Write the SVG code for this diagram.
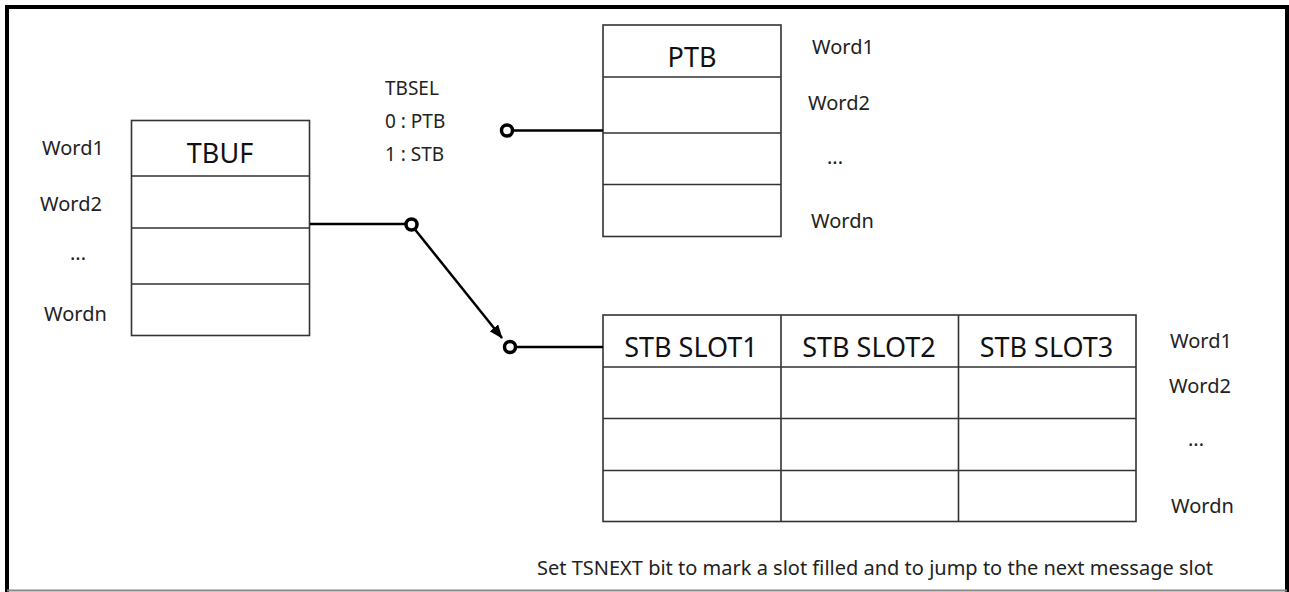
<svg xmlns="http://www.w3.org/2000/svg" width="1289" height="592" viewBox="0 0 1289 592">
<style>
.frame{fill:none;stroke:#000;stroke-width:4}
.cell{fill:#fff;stroke:#333;stroke-width:1.6}
.grid{stroke:#333;stroke-width:1.6;fill:none}
.hdr{font-family:"Noto Sans","Open Sans",sans-serif;font-size:27px;fill:#111;text-anchor:middle}
.lbl{font-family:"Noto Sans","Open Sans",sans-serif;font-size:20px;fill:#222}
.sel{font-family:"Noto Sans","Open Sans",sans-serif;font-size:19px;fill:#222}
.wire{stroke:#000;stroke-width:2.5;fill:none}
.term{fill:#fff;stroke:#000;stroke-width:3.5}
</style>
<defs>
<marker id="arrow" viewBox="0 0 14 11" refX="13" refY="5.5" markerWidth="14" markerHeight="11" markerUnits="userSpaceOnUse" orient="auto">
<path d="M0,0 L14,5.5 L0,11 z" fill="#000"/>
</marker>
</defs>
<rect width="1289" height="592" fill="#fff"/>
<path class="frame" d="M7 592V7H1287V592"/>
<line x1="7" y1="590.5" x2="1287" y2="590.5" stroke="#888" stroke-width="2"/>

<g id="tbuf">
<rect class="cell" x="131.5" y="120.5" width="178" height="215"/>
<path class="grid" d="M131.5 176H309.5M131.5 228H309.5M131.5 284H309.5"/>
<text class="hdr" x="220" y="163">TBUF</text>
<text class="lbl" x="42" y="155">Word1</text>
<text class="lbl" x="40" y="211">Word2</text>
<text class="lbl" x="70" y="260">...</text>
<text class="lbl" x="44" y="321">Wordn</text>
</g>

<g id="ptb">
<rect class="cell" x="603" y="25" width="178" height="211.5"/>
<path class="grid" d="M603 77H781M603 133H781M603 184.5H781"/>
<text class="hdr" x="692" y="67">PTB</text>
<text class="lbl" x="812" y="54">Word1</text>
<text class="lbl" x="808" y="110">Word2</text>
<text class="lbl" x="827" y="164">...</text>
<text class="lbl" x="811" y="228">Wordn</text>
</g>

<g id="stb">
<rect class="cell" x="603" y="315" width="533" height="206.5"/>
<path class="grid" d="M603 367H1136M603 418.5H1136M603 470.5H1136M781 315V521.5M958.5 315V521.5"/>
<text class="hdr" x="691" y="357">STB SLOT1</text>
<text class="hdr" x="869" y="357">STB SLOT2</text>
<text class="hdr" x="1046.5" y="357">STB SLOT3</text>
<text class="lbl" x="1170" y="348">Word1</text>
<text class="lbl" x="1169" y="393">Word2</text>
<text class="lbl" x="1188" y="446">...</text>
<text class="lbl" x="1171" y="513">Wordn</text>
</g>

<g id="tbsel">
<text class="sel" x="385" y="95">TBSEL</text>
<text class="sel" x="385" y="128">0 : PTB</text>
<text class="sel" x="385" y="161">1 : STB</text>
</g>

<g id="connectors">
<line class="wire" x1="310" y1="224" x2="406" y2="224"/>
<line class="wire" x1="512" y1="130.5" x2="603" y2="130.5"/>
<line class="wire" x1="515" y1="347" x2="603" y2="347"/>
<line class="wire" x1="415" y1="229.5" x2="502" y2="338" marker-end="url(#arrow)"/>
<circle class="term" cx="411.5" cy="224.5" r="5.5"/>
<circle class="term" cx="507" cy="130.5" r="5.5"/>
<circle class="term" cx="510" cy="347" r="5.5"/>
</g>

<g id="note">
<text class="lbl" x="537" y="575" textLength="676" lengthAdjust="spacing">Set TSNEXT bit to mark a slot filled and to jump to the next message slot</text>
</g>
</svg>
